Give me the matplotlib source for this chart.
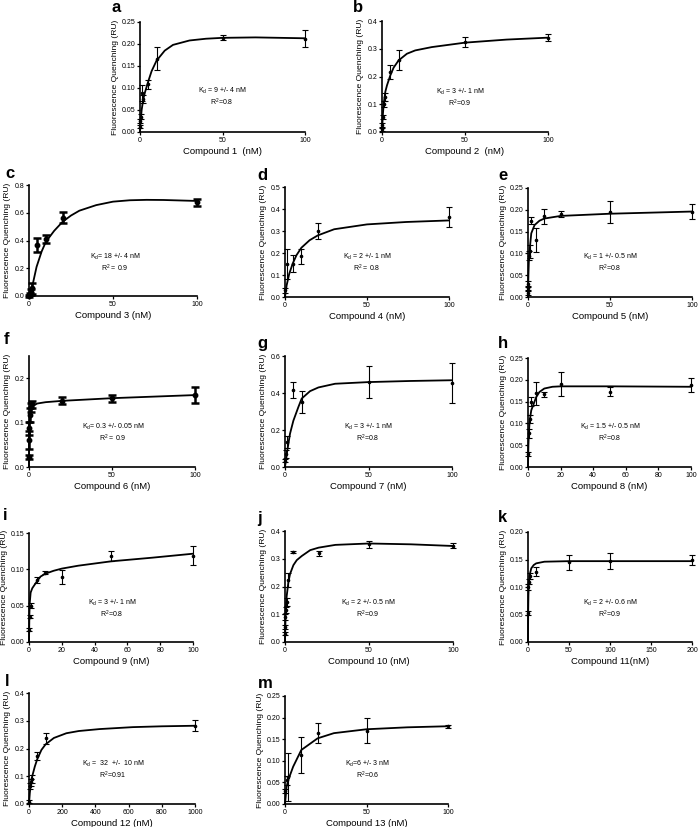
import matplotlib
matplotlib.use("Agg")
import matplotlib.pyplot as plt

plt.rcParams['font.family'] = ['Liberation Sans', 'DejaVu Sans']
plt.rcParams['mathtext.fontset'] = 'custom'
plt.rcParams['mathtext.rm'] = 'Liberation Sans'

# measured points (x in nM, y in RU, e = error)
a_x = [0.1, 0.25, 0.5, 1, 2, 5, 10, 50, 100]
a_y = [0.012, 0.025, 0.035, 0.088, 0.075, 0.108, 0.167, 0.214, 0.212]
a_e = [0.003, 0.004, 0.006, 0.018, 0.008, 0.011, 0.026, 0.006, 0.019]
b_x = [0.1, 0.25, 0.5, 1, 2, 5, 10, 50, 100]
b_y = [0.01, 0.025, 0.055, 0.10, 0.125, 0.215, 0.258, 0.324, 0.340]
b_e = [0.005, 0.006, 0.008, 0.01, 0.015, 0.025, 0.036, 0.019, 0.012]
c_x = [0, 0.5, 1, 2, 5, 10, 20, 100]
c_y = [0.0, 0.015, 0.03, 0.055, 0.365, 0.41, 0.565, 0.675]
c_e = [0.005, 0.01, 0.02, 0.04, 0.05, 0.03, 0.04, 0.025]
d_x = [0, 1, 5, 10, 20, 100]
d_y = [0.03, 0.152, 0.152, 0.185, 0.30, 0.364]
d_e = [0.01, 0.068, 0.04, 0.034, 0.038, 0.045]
e_x = [0, 0.1, 0.25, 0.5, 1, 2, 5, 10, 20, 50, 100]
e_y = [0.01, 0.02, 0.03, 0.095, 0.105, 0.175, 0.131, 0.185, 0.19, 0.195, 0.196]
e_e = [0.005, 0.006, 0.006, 0.01, 0.015, 0.008, 0.027, 0.017, 0.007, 0.025, 0.018]
f_x = [0, 0.1, 0.25, 0.5, 1, 2, 20, 50, 100]
f_y = [0.022, 0.06, 0.087, 0.117, 0.135, 0.141, 0.149, 0.155, 0.162]
f_e = [0.005, 0.02, 0.015, 0.015, 0.01, 0.008, 0.008, 0.008, 0.018]
g_x = [0, 0.5, 1, 5, 10, 50, 100]
g_y = [0.035, 0.07, 0.135, 0.414, 0.35, 0.459, 0.452]
g_e = [0.01, 0.02, 0.03, 0.043, 0.06, 0.088, 0.108]
h_x = [0, 0.5, 1, 2, 5, 10, 20, 50, 100]
h_y = [0.03, 0.077, 0.11, 0.15, 0.169, 0.167, 0.19, 0.173, 0.188]
h_e = [0.005, 0.01, 0.01, 0.01, 0.027, 0.006, 0.028, 0.01, 0.015]
i_x = [0, 0.5, 1, 5, 10, 20, 50, 100]
i_y = [0.017, 0.035, 0.05, 0.085, 0.0955, 0.0895, 0.118, 0.119]
i_e = [0.002, 0.002, 0.003, 0.004, 0.002, 0.009, 0.007, 0.0125]
j_x = [0, 0.1, 0.25, 0.5, 1, 2, 5, 20, 50, 100]
j_y = [0.03, 0.055, 0.09, 0.115, 0.145, 0.224, 0.325, 0.32, 0.352, 0.346]
j_e = [0.005, 0.008, 0.01, 0.01, 0.015, 0.024, 0.004, 0.009, 0.012, 0.009]
k_x = [0, 0.5, 1, 2, 10, 50, 100, 200]
k_y = [0.053, 0.10, 0.11, 0.12, 0.128, 0.145, 0.147, 0.149]
k_e = [0.004, 0.005, 0.005, 0.006, 0.008, 0.014, 0.0145, 0.009]
l_x = [0, 5, 10, 20, 50, 100, 1000]
l_y = [0.008, 0.065, 0.078, 0.089, 0.174, 0.237, 0.282]
l_e = [0.005, 0.01, 0.012, 0.015, 0.015, 0.02, 0.02]
m_x = [0, 1, 2, 10, 20, 50, 100]
m_y = [0.03, 0.055, 0.063, 0.113, 0.165, 0.17, 0.18]
m_e = [0.005, 0.01, 0.055, 0.042, 0.023, 0.028, 0.003]

# fitted curves
a_cx = [0, 0.5, 1, 2, 3, 5, 7, 10, 15, 20, 30, 40, 50, 70, 100]
a_cy = [0, 0.03, 0.05, 0.075, 0.09, 0.115, 0.138, 0.162, 0.185, 0.198, 0.208, 0.212, 0.214, 0.215, 0.213]
b_cx = [0, 0.5, 1, 2, 3, 5, 7, 10, 15, 20, 30, 50, 75, 100]
b_cy = [0, 0.06, 0.10, 0.145, 0.168, 0.204, 0.232, 0.258, 0.282, 0.294, 0.306, 0.322, 0.333, 0.340]
c_cx = [0, 1, 2.5, 4.5, 7.5, 10, 15, 20, 25, 30, 40, 50, 60, 70, 80, 100]
c_cy = [0, 0.03, 0.10, 0.21, 0.32, 0.39, 0.47, 0.535, 0.58, 0.615, 0.655, 0.68, 0.69, 0.693, 0.692, 0.685]
d_cx = [0, 1, 2.6, 4.7, 7, 10, 15, 20, 30, 50, 74, 100]
d_cy = [0, 0.053, 0.106, 0.152, 0.19, 0.224, 0.258, 0.28, 0.308, 0.33, 0.341, 0.348]
e_cx = [0, 0.25, 0.5, 1, 2, 4, 7, 10, 20, 50, 100]
e_cy = [0, 0.05, 0.08, 0.108, 0.146, 0.165, 0.175, 0.18, 0.186, 0.191, 0.196]
f_cx = [0, 0.1, 0.25, 0.5, 1, 2, 5, 10, 20, 50, 100]
f_cy = [0, 0.05, 0.09, 0.115, 0.13, 0.137, 0.143, 0.146, 0.149, 0.155, 0.162]
g_cx = [0, 1.4, 3, 5, 8, 10, 15, 20, 30, 50, 75, 100]
g_cy = [0, 0.09, 0.18, 0.25, 0.324, 0.37, 0.41, 0.43, 0.45, 0.459, 0.465, 0.469]
h_cx = [0, 0.25, 0.5, 1, 2, 3, 5, 7, 10, 15, 20, 50, 100]
h_cy = [0, 0.05, 0.075, 0.105, 0.13, 0.14, 0.16, 0.172, 0.18, 0.184, 0.185, 0.185, 0.184]
i_cx = [0, 0.25, 0.5, 1, 2, 3.5, 5, 7, 10, 15, 20, 30, 50, 75, 100]
i_cy = [0, 0.04, 0.055, 0.068, 0.074, 0.079, 0.084, 0.09, 0.094, 0.098, 0.101, 0.105, 0.111, 0.116, 0.1215]
j_cx = [0, 0.25, 0.5, 1, 2, 3, 5, 7, 10, 15, 20, 30, 50, 75, 100]
j_cy = [0, 0.07, 0.12, 0.165, 0.215, 0.245, 0.277, 0.295, 0.31, 0.331, 0.34, 0.35, 0.355, 0.352, 0.346]
k_cx = [0, 0.25, 0.5, 1, 2, 4, 7, 10, 20, 50, 100, 200]
k_cy = [0, 0.06, 0.085, 0.105, 0.122, 0.134, 0.14, 0.143, 0.146, 0.147, 0.147, 0.147]
l_cx = [0, 5, 15, 35, 50, 75, 100, 150, 225, 300, 425, 625, 800, 1000]
l_cy = [0, 0.04, 0.09, 0.135, 0.162, 0.195, 0.215, 0.238, 0.255, 0.263, 0.27, 0.277, 0.28, 0.282]
m_cx = [0, 1, 2, 5, 10, 20, 30, 50, 75, 100]
m_cy = [0, 0.04, 0.0556, 0.0864, 0.125, 0.152, 0.164, 0.173, 0.1775, 0.18]

kd_text = {
    'a': ("K$_\\mathregular{d}$ = 9 +/- 4 nM", "R$^\\mathregular{2}$=0.8"),
    'b': ("K$_\\mathregular{d}$ = 3 +/- 1 nM", "R$^\\mathregular{2}$=0.9"),
    'c': ("K$_\\mathregular{d}$= 18 +/- 4 nM", "R$^\\mathregular{2}$ = 0.9"),
    'd': ("K$_\\mathregular{d}$ = 2 +/- 1 nM", "R$^\\mathregular{2}$ = 0.8"),
    'e': ("K$_\\mathregular{d}$ = 1 +/- 0.5 nM", "R$^\\mathregular{2}$=0.8"),
    'f': ("K$_\\mathregular{d}$= 0.3 +/- 0.05 nM", "R$^\\mathregular{2}$ = 0.9"),
    'g': ("K$_\\mathregular{d}$ = 3 +/- 1 nM", "R$^\\mathregular{2}$=0.8"),
    'h': ("K$_\\mathregular{d}$ = 1.5 +/- 0.5 nM", "R$^\\mathregular{2}$=0.8"),
    'i': ("K$_\\mathregular{d}$ = 3 +/- 1 nM", "R$^\\mathregular{2}$=0.8"),
    'j': ("K$_\\mathregular{d}$ = 2 +/- 0.5 nM", "R$^\\mathregular{2}$=0.9"),
    'k': ("K$_\\mathregular{d}$ = 2 +/- 0.6 nM", "R$^\\mathregular{2}$=0.9"),
    'l': ("K$_\\mathregular{d}$ =  32  +/-  10 nM", "R$^\\mathregular{2}$=0.91"),
    'm': ("K$_\\mathregular{d}$=6 +/- 3 nM", "R$^\\mathregular{2}$=0.6"),
}
xlabels = {
    'a': "Compound 1  (nM)", 'b': "Compound 2  (nM)", 'c': "Compound 3 (nM)",
    'd': "Compound 4 (nM)", 'e': "Compound 5 (nM)", 'f': "Compound 6 (nM)",
    'g': "Compound 7 (nM)", 'h': "Compound 8 (nM)", 'i': "Compound 9 (nM)",
    'j': "Compound 10 (nM)", 'k': "Compound 11(nM)", 'l': "Compound 12 (nM)",
    'm': "Compound 13 (nM)",
}

W, H = 700, 827
# panel: data, curve, axes box in pixels (x0, y0, x1, y1), xlim, xticks, ylim, ystep, fmt, bold, letter pos, text pos
panels = [
    ('a', a_x, a_y, a_e, a_cx, a_cy, (140, 22, 305, 132), 100, [0, 50, 100], 0.25, 0.05, '%.2f', False, (112, 7), (222, 91)),
    ('b', b_x, b_y, b_e, b_cx, b_cy, (382, 21, 548, 132), 100, [0, 50, 100], 0.4, 0.1, '%.1f', False, (353, 7), (460, 92)),
    ('c', c_x, c_y, c_e, c_cx, c_cy, (29, 185, 197, 296), 100, [0, 50, 100], 0.8, 0.2, '%.1f', True, (5, 174), (115, 257)),
    ('d', d_x, d_y, d_e, d_cx, d_cy, (285, 187, 449, 297), 100, [0, 50, 100], 0.5, 0.1, '%.1f', False, (257, 175), (367, 257)),
    ('e', e_x, e_y, e_e, e_cx, e_cy, (528, 188, 692, 297), 100, [0, 50, 100], 0.25, 0.05, '%.2f', False, (498, 176), (610, 257)),
    ('f', f_x, f_y, f_e, f_cx, f_cy, (29, 356, 195, 467), 100, [0, 50, 100], 0.25, 0.1, '%.1f', True, (4, 340), (113, 427)),
    ('g', g_x, g_y, g_e, g_cx, g_cy, (285, 356, 452, 467), 100, [0, 50, 100], 0.6, 0.2, '%.1f', False, (257, 343), (368, 427)),
    ('h', h_x, h_y, h_e, h_cx, h_cy, (528, 358, 691, 467), 100, [0, 20, 40, 60, 80, 100], 0.25, 0.05, '%.2f', False, (498, 343), (610, 427)),
    ('i', i_x, i_y, i_e, i_cx, i_cy, (29, 533, 193, 642), 100, [0, 20, 40, 60, 80, 100], 0.15, 0.05, '%.2f', False, (3, 515), (112, 603)),
    ('j', j_x, j_y, j_e, j_cx, j_cy, (285, 531, 453, 642), 100, [0, 50, 100], 0.4, 0.1, '%.1f', False, (257, 519), (368, 603)),
    ('k', k_x, k_y, k_e, k_cx, k_cy, (528, 532, 692, 642), 200, [0, 50, 100, 150, 200], 0.20, 0.05, '%.2f', False, (498, 518), (610, 603)),
    ('l', l_x, l_y, l_e, l_cx, l_cy, (29, 693, 195, 804), 1000, [0, 200, 400, 600, 800, 1000], 0.4, 0.1, '%.1f', False, (5, 682), (113, 764)),
    ('m', m_x, m_y, m_e, m_cx, m_cy, (285, 696, 448, 804), 100, [0, 50, 100], 0.25, 0.05, '%.2f', False, (258, 684), (368, 764)),
]

fig = plt.figure(figsize=(7, 8.27), dpi=100)

for (key, px, py, pe, cx, cy, box, xmax, xticks, ymax, ystep, fmt, bold,
     lpos, tpos) in panels:
    x0, y0, x1, y1 = box
    ax = fig.add_axes([x0 / W, 1 - y1 / H, (x1 - x0) / W, (y1 - y0) / H])
    ax.plot(cx, cy, color='black', lw=1.3, clip_on=False, zorder=3)
    if bold:
        ax.errorbar(px, py, yerr=pe, fmt='o', color='black', ms=3.2,
                    elinewidth=1.8, capsize=2.8, capthick=1.8, clip_on=False, zorder=4)
    else:
        ax.errorbar(px, py, yerr=pe, fmt='o', color='black', ms=1.6,
                    elinewidth=0.8, capsize=2.2, capthick=0.8, clip_on=False, zorder=4)
    ax.set_xlim(0, xmax)
    ax.set_ylim(0, ymax)
    ax.set_xticks(xticks)
    nt = int(round(ymax / ystep))
    yt = [ystep * n for n in range(nt + 1)]
    ax.set_yticks(yt)
    ax.set_yticklabels([fmt % v for v in yt])
    for s in ['top', 'right']:
        ax.spines[s].set_visible(False)
    for s in ['left', 'bottom']:
        ax.spines[s].set_linewidth(1.2)
    ax.tick_params(labelsize=5, length=2.5, width=0.9, pad=1)
    ax.set_ylabel("Fluorescence Quenching (RU)", fontsize=6.1, labelpad=2)
    ax.set_xlabel(xlabels[key], fontsize=6.8, labelpad=2)
    fig.text(lpos[0] / W, 1 - lpos[1] / H, key, fontsize=12, fontweight='bold',
             ha='left', va='center')
    t1, t2 = kd_text[key]
    fig.text(tpos[0] / W, 1 - tpos[1] / H, t1, fontsize=5, ha='center', va='center')
    fig.text(tpos[0] / W, 1 - (tpos[1] + 11) / H, t2, fontsize=5, ha='center', va='center')

fig.savefig("out.png", dpi=100)
